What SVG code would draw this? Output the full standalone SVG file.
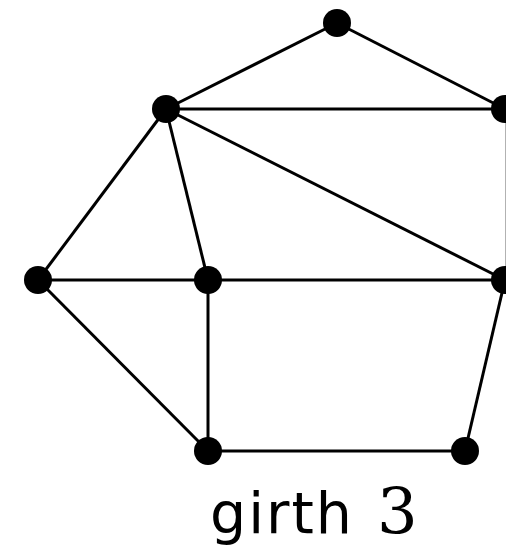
<svg xmlns="http://www.w3.org/2000/svg" width="506" height="552" viewBox="0 0 506 552">
<style>
.e{stroke:#000;stroke-width:3;fill:none}
.n{fill:#000}
.t{font-family:"DejaVu Sans","Liberation Sans",sans-serif;font-size:57px;fill:#000}
.m{font-family:"DejaVu Serif","Liberation Serif",serif;font-size:64px;fill:#000}
</style>
<rect width="506" height="552" fill="#fff"/>
<g id="edges">
<line class="e" x1="337" y1="23" x2="166" y2="109"/>
<line class="e" x1="337" y1="23" x2="505" y2="109"/>
<line class="e" x1="166" y1="109" x2="505" y2="109"/>
<line class="e" x1="166" y1="109" x2="38" y2="280"/>
<line class="e" x1="166" y1="109" x2="208" y2="280"/>
<line class="e" x1="166" y1="109" x2="505" y2="280"/>
<line class="e" x1="507.2" y1="109" x2="507.2" y2="280"/>
<line class="e" x1="38" y1="280" x2="505" y2="280"/>
<line class="e" x1="38" y1="280" x2="208" y2="451"/>
<line class="e" x1="208" y1="280" x2="208" y2="451"/>
<line class="e" x1="208" y1="451" x2="465" y2="451"/>
<line class="e" x1="465" y1="451" x2="505" y2="280"/>
</g>
<g id="nA"><circle class="n" cx="337" cy="23" r="14"/></g>
<g id="nB"><circle class="n" cx="166" cy="109" r="14"/></g>
<g id="nC"><circle class="n" cx="505" cy="109" r="14"/></g>
<g id="nD"><circle class="n" cx="38" cy="280" r="14"/></g>
<g id="nE"><circle class="n" cx="208" cy="280" r="14"/></g>
<g id="nF"><circle class="n" cx="505" cy="280" r="14"/></g>
<g id="nG"><circle class="n" cx="208" cy="451" r="14"/></g>
<g id="nH"><circle class="n" cx="465" cy="451" r="14"/></g>
<text class="t" x="210" y="533" textLength="142" lengthAdjust="spacing">girth</text>
<text class="m" x="377" y="534">3</text>
</svg>
